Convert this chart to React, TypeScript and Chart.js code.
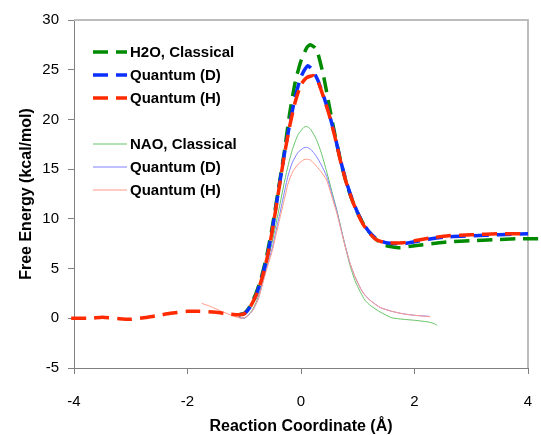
import React, { useEffect, useRef } from "react";
import { Chart, registerables } from "chart.js";

Chart.register(...registerables);

// ---- Data ----
const h2oClassicalX = [-1.1, -1.0, -0.9, -0.8, -0.7, -0.6, -0.5, -0.4, -0.3, -0.2, -0.1, 0, 0.1, 0.16, 0.25, 0.3, 0.4, 0.5, 0.6, 0.7, 0.8, 0.9, 1.0, 1.1, 1.2, 1.33, 1.45, 1.6, 1.75, 2.0, 2.3, 2.6, 3.0, 3.4, 3.8, 4.23];
const h2oClassicalY = [0.35, 0.5, 1.2, 2.4, 4.1, 6.4, 9.4, 12.9, 16.5, 20.6, 23.8, 25.9, 27.2, 27.5, 27.2, 26.6, 24.3, 21.3, 18.4, 15.8, 13.6, 11.9, 10.6, 9.5, 8.7, 7.9, 7.4, 7.2, 7.1, 7.3, 7.5, 7.7, 7.8, 7.9, 8.0, 8.0];

const h2oQuantumDX = [-1.1, -1.0, -0.9, -0.8, -0.7, -0.6, -0.5, -0.4, -0.3, -0.2, -0.1, 0, 0.12, 0.2, 0.3, 0.4, 0.5, 0.6, 0.7, 0.8, 0.9, 1.0, 1.1, 1.2, 1.33, 1.5, 1.8, 2.0, 2.3, 2.6, 3.0, 3.5, 4.0, 4.23];
const h2oQuantumDY = [0.35, 0.45, 1.1, 2.2, 3.9, 6.1, 9.1, 12.7, 16.3, 19.5, 22.3, 24.3, 25.4, 25.0, 23.9, 22.3, 20.5, 18.3, 15.8, 13.7, 12.0, 10.6, 9.5, 8.7, 8.0, 7.6, 7.5, 7.7, 8.0, 8.2, 8.3, 8.4, 8.5, 8.4];

const h2oQuantumHX = [-4.05, -3.7, -3.5, -3.2, -3.0, -2.7, -2.5, -2.3, -2.0, -1.8, -1.5, -1.3, -1.1, -1.0, -0.9, -0.8, -0.7, -0.6, -0.5, -0.4, -0.3, -0.2, -0.1, 0, 0.1, 0.22, 0.3, 0.4, 0.5, 0.6, 0.7, 0.8, 0.9, 1.0, 1.1, 1.2, 1.33, 1.5, 1.8, 2.0, 2.3, 2.6, 3.0, 3.5, 4.0, 4.23];
const h2oQuantumHY = [0.0, 0.0, 0.1, -0.05, -0.1, 0.1, 0.3, 0.5, 0.7, 0.7, 0.6, 0.45, 0.35, 0.45, 1.1, 2.2, 3.8, 6.0, 9.0, 12.6, 16.2, 19.3, 21.8, 23.5, 24.2, 24.4, 23.8, 22.2, 20.4, 18.2, 15.7, 13.6, 11.9, 10.5, 9.4, 8.6, 7.9, 7.6, 7.6, 7.8, 8.1, 8.3, 8.4, 8.5, 8.5, 8.5];

const naoClassicalX = [-1.1, -1.0, -0.95, -0.85, -0.75, -0.67, -0.6, -0.51, -0.44, -0.37, -0.3, -0.23, -0.15, -0.05, 0.05, 0.1, 0.17, 0.27, 0.36, 0.45, 0.57, 0.63, 0.7, 0.78, 0.86, 0.95, 1.05, 1.13, 1.22, 1.39, 1.6, 1.8, 2.0, 2.22, 2.33, 2.4];
const naoClassicalY = [0.1, 0.0, 0.2, 0.9, 2.2, 3.9, 5.5, 7.6, 9.5, 11.5, 13.5, 15.3, 17.0, 18.5, 19.2, 19.3, 19.0, 18.0, 16.6, 14.8, 12.2, 10.9, 9.2, 7.2, 5.4, 3.8, 2.6, 1.8, 1.3, 0.65, 0.05, -0.1, -0.2, -0.35, -0.5, -0.7];

const naoQuantumDX = [-1.1, -1.0, -0.95, -0.85, -0.75, -0.67, -0.6, -0.51, -0.44, -0.37, -0.3, -0.23, -0.15, -0.05, 0.05, 0.1, 0.17, 0.27, 0.36, 0.45, 0.54, 0.63, 0.7, 0.78, 0.86, 0.95, 1.05, 1.13, 1.22, 1.39, 1.6, 1.8, 2.0, 2.26];
const naoQuantumDY = [0.1, 0.0, 0.2, 0.8, 2.0, 3.7, 5.2, 7.0, 8.8, 10.6, 12.5, 14.3, 15.7, 16.7, 17.15, 17.2, 17.0, 16.3, 15.4, 14.3, 12.6, 10.8, 9.1, 7.3, 5.6, 4.2, 3.0, 2.3, 1.8, 1.1, 0.7, 0.45, 0.3, 0.2];

const naoQuantumHX = [-1.75, -1.6, -1.4, -1.2, -1.05, -0.95, -0.85, -0.75, -0.67, -0.6, -0.51, -0.44, -0.37, -0.3, -0.23, -0.15, -0.05, 0.05, 0.1, 0.17, 0.27, 0.36, 0.45, 0.54, 0.63, 0.7, 0.78, 0.86, 0.95, 1.05, 1.13, 1.22, 1.39, 1.6, 1.8, 2.0, 2.28];
const naoQuantumHY = [1.5, 1.2, 0.7, 0.25, 0.0, 0.2, 0.8, 2.0, 3.6, 5.0, 6.7, 8.4, 10.1, 11.8, 13.5, 14.7, 15.5, 15.95, 16.0, 15.9, 15.3, 14.7, 13.9, 12.3, 10.6, 9.0, 7.2, 5.6, 4.2, 3.0, 2.3, 1.8, 1.1, 0.7, 0.45, 0.3, 0.15];

const seriesLabels = ["H2O, Classical", "Quantum (D)", "Quantum (H)", "NAO, Classical", "Quantum (D)", "Quantum (H)"];
const xTickValues = [-4, -2, 0, 2, 4];
const yTickValues = [-5, 0, 5, 10, 15, 20, 25, 30];

const FONT = "'Liberation Sans', Arial, Helvetica, sans-serif";

function pts(xs: number[], ys: number[]) {
  return xs.map((x, i) => ({ x, y: ys[i] }));
}

const legendPlugin = {
  id: "customLegend",
  afterDatasetsDraw(chart: any) {
    const ctx = chart.ctx;
    const rows = [52, 75, 98, 144, 167, 190];
    ctx.save();
    chart.data.datasets.forEach((ds: any, i: number) => {
      const y = rows[i];
      ctx.beginPath();
      ctx.setLineDash(ds.borderDash || []);
      ctx.lineDashOffset = 0;
      ctx.lineWidth = ds.borderWidth;
      ctx.strokeStyle = ds.borderColor;
      ctx.lineCap = "butt";
      ctx.moveTo(93, y);
      ctx.lineTo(127, y);
      ctx.stroke();
      ctx.setLineDash([]);
      ctx.fillStyle = "#000";
      ctx.font = `bold 15px ${FONT}`;
      ctx.textBaseline = "middle";
      ctx.textAlign = "left";
      ctx.fillText(ds.label, 130, y + 1);
    });
    ctx.restore();
  },
};

const framePlugin = {
  id: "frame",
  beforeDatasetsDraw(chart: any) {
    const { ctx, chartArea } = chart;
    ctx.save();
    ctx.strokeStyle = "#bdbdbd";
    ctx.lineWidth = 2;
    ctx.beginPath();
    ctx.moveTo(chartArea.left, chartArea.top);
    ctx.lineTo(chartArea.right, chartArea.top);
    ctx.lineTo(chartArea.right, chartArea.bottom);
    ctx.stroke();
    ctx.restore();
  },
};

export default function App() {
  const ref = useRef<HTMLCanvasElement | null>(null);

  useEffect(() => {
    if (!ref.current) return;
    Chart.defaults.font.family = FONT;
    const dashed = (color: string) => ({
      borderColor: color,
      backgroundColor: color,
      borderWidth: 3.5,
      borderDash: [15, 8],
      pointRadius: 0,
      tension: 0.2,
      fill: false,
      clip: false as any,
    });
    const thin = (color: string) => ({
      borderColor: color,
      backgroundColor: color,
      borderWidth: 1,
      pointRadius: 0,
      tension: 0.2,
      fill: false,
    });
    const chart = new Chart(ref.current, {
      type: "line",
      data: {
        datasets: [
          { label: seriesLabels[0], data: pts(h2oClassicalX, h2oClassicalY), ...dashed("#008a00"), order: 3 },
          { label: seriesLabels[1], data: pts(h2oQuantumDX, h2oQuantumDY), ...dashed("#0a2fff"), order: 2 },
          { label: seriesLabels[2], data: pts(h2oQuantumHX, h2oQuantumHY), ...dashed("#ff2a00"), order: 1 },
          { label: seriesLabels[3], data: pts(naoClassicalX, naoClassicalY), ...thin("#66c466"), order: 6 },
          { label: seriesLabels[4], data: pts(naoQuantumDX, naoQuantumDY), ...thin("#8080ff"), order: 5 },
          { label: seriesLabels[5], data: pts(naoQuantumHX, naoQuantumHY), ...thin("#ff9a8a"), order: 4 },
        ] as any,
      },
      options: {
        animation: false,
        responsive: false,
        maintainAspectRatio: false,
        parsing: false as any,
        layout: { padding: { top: 20, right: 13, left: 0, bottom: 0 } },
        plugins: {
          legend: { display: false },
          tooltip: { enabled: false },
        },
        scales: {
          x: {
            type: "linear",
            min: -4,
            max: 4,
            afterFit: (s: any) => { s.height = 67; s.paddingRight = 4; s.paddingLeft = 4; },
            afterBuildTicks: (s: any) => { s.ticks = xTickValues.map((v) => ({ value: v })); },
            ticks: { color: "#000", font: { size: 15, family: FONT }, padding: 19, maxRotation: 0 },
            grid: { drawOnChartArea: false, drawTicks: true, tickLength: 6, color: "#808080" },
            border: { display: true, color: "#808080", width: 1 },
            title: {
              display: true,
              text: "Reaction Coordinate (Å)",
              color: "#000",
              font: { size: 16, weight: "bold", family: FONT },
              padding: { top: 0, bottom: -1 },
            },
          },
          y: {
            type: "linear",
            min: -5,
            max: 30,
            afterFit: (s: any) => { s.width = 74; },
            afterBuildTicks: (s: any) => { s.ticks = yTickValues.map((v) => ({ value: v })); },
            ticks: { color: "#000", font: { size: 15, family: FONT }, padding: 9 },
            grid: { drawOnChartArea: false, drawTicks: true, tickLength: 6, color: "#808080" },
            border: { display: true, color: "#808080", width: 1 },
            title: {
              display: true,
              text: "Free Energy (kcal/mol)",
              color: "#000",
              font: { size: 16, weight: "bold", family: FONT },
              padding: { top: 17, bottom: 0 },
            },
          },
        },
      },
      plugins: [framePlugin, legendPlugin],
    });
    return () => chart.destroy();
  }, []);

  return (
    <div style={{ position: "absolute", left: 0, top: 0, width: 541, height: 435, background: "#fff" }}>
      <canvas ref={ref} width={541} height={435} style={{ display: "block", width: 541, height: 435 }} />
    </div>
  );
}
